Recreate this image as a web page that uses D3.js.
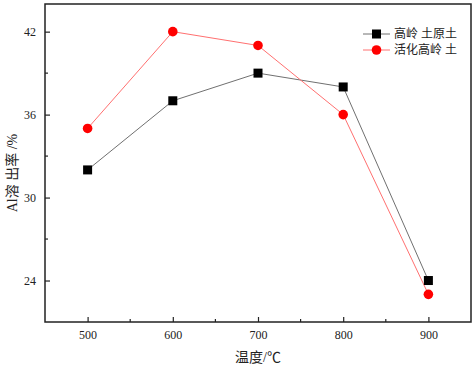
<!DOCTYPE html>
<html>
<head>
<meta charset="utf-8">
<script src="https://cdn.jsdelivr.net/npm/d3@7"></script>
<style>
  body { margin: 0; background: #fff; }
  text { font-family: "Liberation Serif", "Noto Sans CJK SC", serif; }
</style>
</head>
<body>
<svg id="chart" width="476" height="366"></svg>
<script>
// --- Data ------------------------------------------------------------
const temps = [500, 600, 700, 800, 900];
const rawKaolin = [32.0, 37.0, 39.0, 38.0, 24.0];
const activatedKaolin = [35.0, 42.0, 41.0, 36.0, 23.0];
const seriesNames = ['高岭 土原土', '活化高岭 土'];
const yTickValues = [24, 30, 36, 42];
const xTickValues = [500, 600, 700, 800, 900];

// --- Layout ----------------------------------------------------------
const plotLeft = 45, plotRight = 471, plotTop = 4, plotBottom = 322;
const svg = d3.select('#chart');

const x = d3.scaleLinear().domain([450, 950]).range([plotLeft, plotRight]);
const y = d3.scaleLinear().domain([21, 44]).range([plotBottom, plotTop]);

// inward ticks: majors labelled, minors in between
const xAxis = d3.axisBottom(x).tickValues(xTickValues).tickSizeInner(-5).tickSizeOuter(0).tickPadding(8);
const yAxis = d3.axisLeft(y).tickValues(yTickValues).tickSizeInner(-5).tickSizeOuter(0).tickPadding(9);

const gx = svg.append('g').attr('transform', `translate(0,${plotBottom})`).call(xAxis);
const gy = svg.append('g').attr('transform', `translate(${plotLeft},0)`).call(yAxis);
[gx, gy].forEach(g => {
  g.select('.domain').remove();
  g.selectAll('text').attr('font-size', 12).attr('fill', '#222');
  g.selectAll('line').attr('stroke', '#222').attr('stroke-width', 1.2);
});

// minor ticks
svg.append('g').selectAll('line')
  .data([550, 650, 750, 850])
  .join('line')
  .attr('x1', d => x(d)).attr('x2', d => x(d))
  .attr('y1', plotBottom).attr('y2', plotBottom - 3)
  .attr('stroke', '#222').attr('stroke-width', 1.2);
svg.append('g').selectAll('line')
  .data([27, 33, 39])
  .join('line')
  .attr('x1', plotLeft).attr('x2', plotLeft + 3)
  .attr('y1', d => y(d)).attr('y2', d => y(d))
  .attr('stroke', '#222').attr('stroke-width', 1.2);

// frame
svg.append('rect')
  .attr('x', plotLeft).attr('y', plotTop)
  .attr('width', plotRight - plotLeft).attr('height', plotBottom - plotTop)
  .attr('fill', 'none').attr('stroke', '#222').attr('stroke-width', 1.5);

// --- Series ----------------------------------------------------------
const line = d3.line().x((d, i) => x(temps[i])).y(d => y(d));

svg.append('path').datum(rawKaolin)
  .attr('d', line).attr('fill', 'none').attr('stroke', '#707070').attr('stroke-width', 1);
svg.append('path').datum(activatedKaolin)
  .attr('d', line).attr('fill', 'none').attr('stroke', '#ff7070').attr('stroke-width', 1);

svg.append('g').selectAll('rect')
  .data(rawKaolin)
  .join('rect')
  .attr('x', (d, i) => x(temps[i]) - 4.5)
  .attr('y', d => y(d) - 4.5)
  .attr('width', 9).attr('height', 9)
  .attr('fill', '#000');

svg.append('g').selectAll('circle')
  .data(activatedKaolin)
  .join('circle')
  .attr('cx', (d, i) => x(temps[i]))
  .attr('cy', d => y(d))
  .attr('r', 4.8)
  .attr('fill', '#ff0000');

// --- Legend ----------------------------------------------------------
const legend = svg.append('g').attr('transform', 'translate(363,34)');
legend.append('line').attr('x1', 0).attr('x2', 27).attr('y1', 0).attr('y2', 0)
  .attr('stroke', '#707070');
legend.append('rect').attr('x', 9).attr('y', -4.5).attr('width', 9).attr('height', 9).attr('fill', '#000');
legend.append('line').attr('x1', 0).attr('x2', 27).attr('y1', 16).attr('y2', 16)
  .attr('stroke', '#ff7070');
legend.append('circle').attr('cx', 13.5).attr('cy', 16).attr('r', 4.8).attr('fill', '#ff0000');
legend.selectAll('text')
  .data(seriesNames)
  .join('text')
  .attr('x', 31).attr('y', (d, i) => i * 16)
  .attr('dy', '0.35em')
  .attr('font-size', 12)
  .attr('fill', '#222')
  .text(d => d);

// --- Axis titles -----------------------------------------------------
svg.append('text')
  .attr('x', (plotLeft + plotRight) / 2).attr('y', 362)
  .attr('text-anchor', 'middle')
  .attr('font-size', 14)
  .attr('fill', '#222')
  .text('温度/℃');

svg.append('text')
  .attr('transform', `translate(17,${(plotTop + plotBottom) / 2 + 10}) rotate(-90)`)
  .attr('text-anchor', 'middle')
  .attr('font-size', 14)
  .attr('fill', '#222')
  .text('Al溶 出率 /%');
</script>
</body>
</html>
